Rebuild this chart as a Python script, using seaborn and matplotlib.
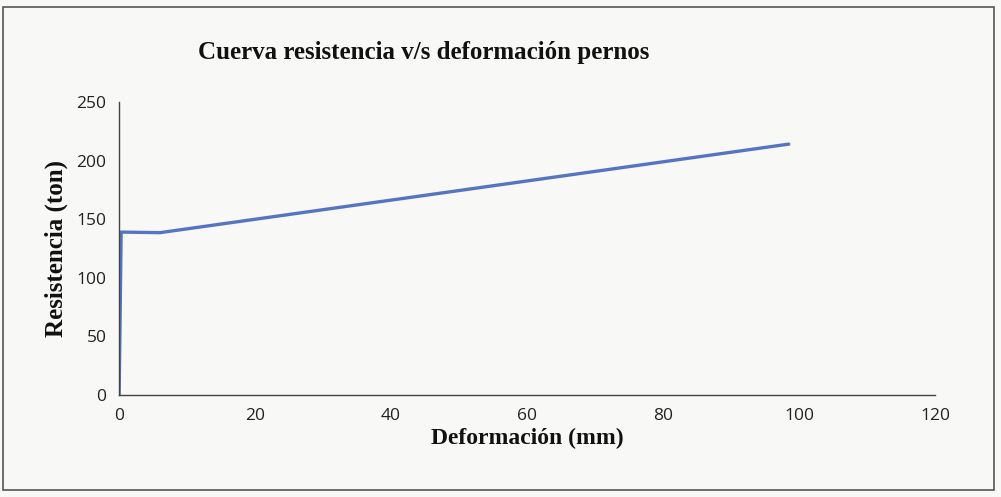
import matplotlib
matplotlib.use("Agg")
import matplotlib.pyplot as plt
import seaborn as sns
import pandas as pd
from matplotlib.patches import Rectangle

deformacion = [0.0, 0.3, 6.0, 98.5]
resistencia = [0.0, 139.0, 138.5, 214.0]
x_ticks = [0, 20, 40, 60, 80, 100, 120]
y_ticks = [0, 50, 100, 150, 200, 250]

sns.set_theme(style="white")
plt.rcParams['font.family'] = ['Liberation Serif', 'DejaVu Serif']

df = pd.DataFrame({"Deformación (mm)": deformacion, "Resistencia (ton)": resistencia})

fig = plt.figure(figsize=(10.01, 4.97), dpi=100)
fig.patch.set_facecolor("#f8f8f6")
ax = fig.add_axes([0.119, 0.205, 0.815, 0.59])
ax.set_facecolor("#f8f8f6")

sns.lineplot(data=df, x="Deformación (mm)", y="Resistencia (ton)", sort=False,
             color="#5575c2", linewidth=2.4, ax=ax)

ax.set_xlim(0, 120)
ax.set_ylim(0, 250)
ax.set_xticks(x_ticks)
ax.set_yticks(y_ticks)
ax.tick_params(length=0, pad=9, labelsize=12.5)
for lab in ax.get_xticklabels() + ax.get_yticklabels():
    lab.set_family(['Open Sans', 'DejaVu Sans'])
    lab.set_color("#222222")
for s in ["top", "right"]:
    ax.spines[s].set_visible(False)
for s in ["left", "bottom"]:
    ax.spines[s].set_color("#444444")
    ax.spines[s].set_linewidth(1.0)

ax.set_xlabel("Deformación (mm)", fontsize=17, fontweight="bold", color="#111111", labelpad=3)
ax.set_ylabel("Resistencia (ton)", fontsize=18, fontweight="bold", color="#111111", labelpad=6)
fig.text(0.423, 0.895, "Cuerva resistencia v/s deformación pernos", ha="center", va="center",
         fontsize=18, fontweight="bold", color="#111111")

fig.add_artist(Rectangle((0.003, 0.015), 0.99, 0.97, transform=fig.transFigure,
                         fill=False, edgecolor="#555555", linewidth=1.2))

fig.savefig("out.png", dpi=100, facecolor=fig.get_facecolor())
